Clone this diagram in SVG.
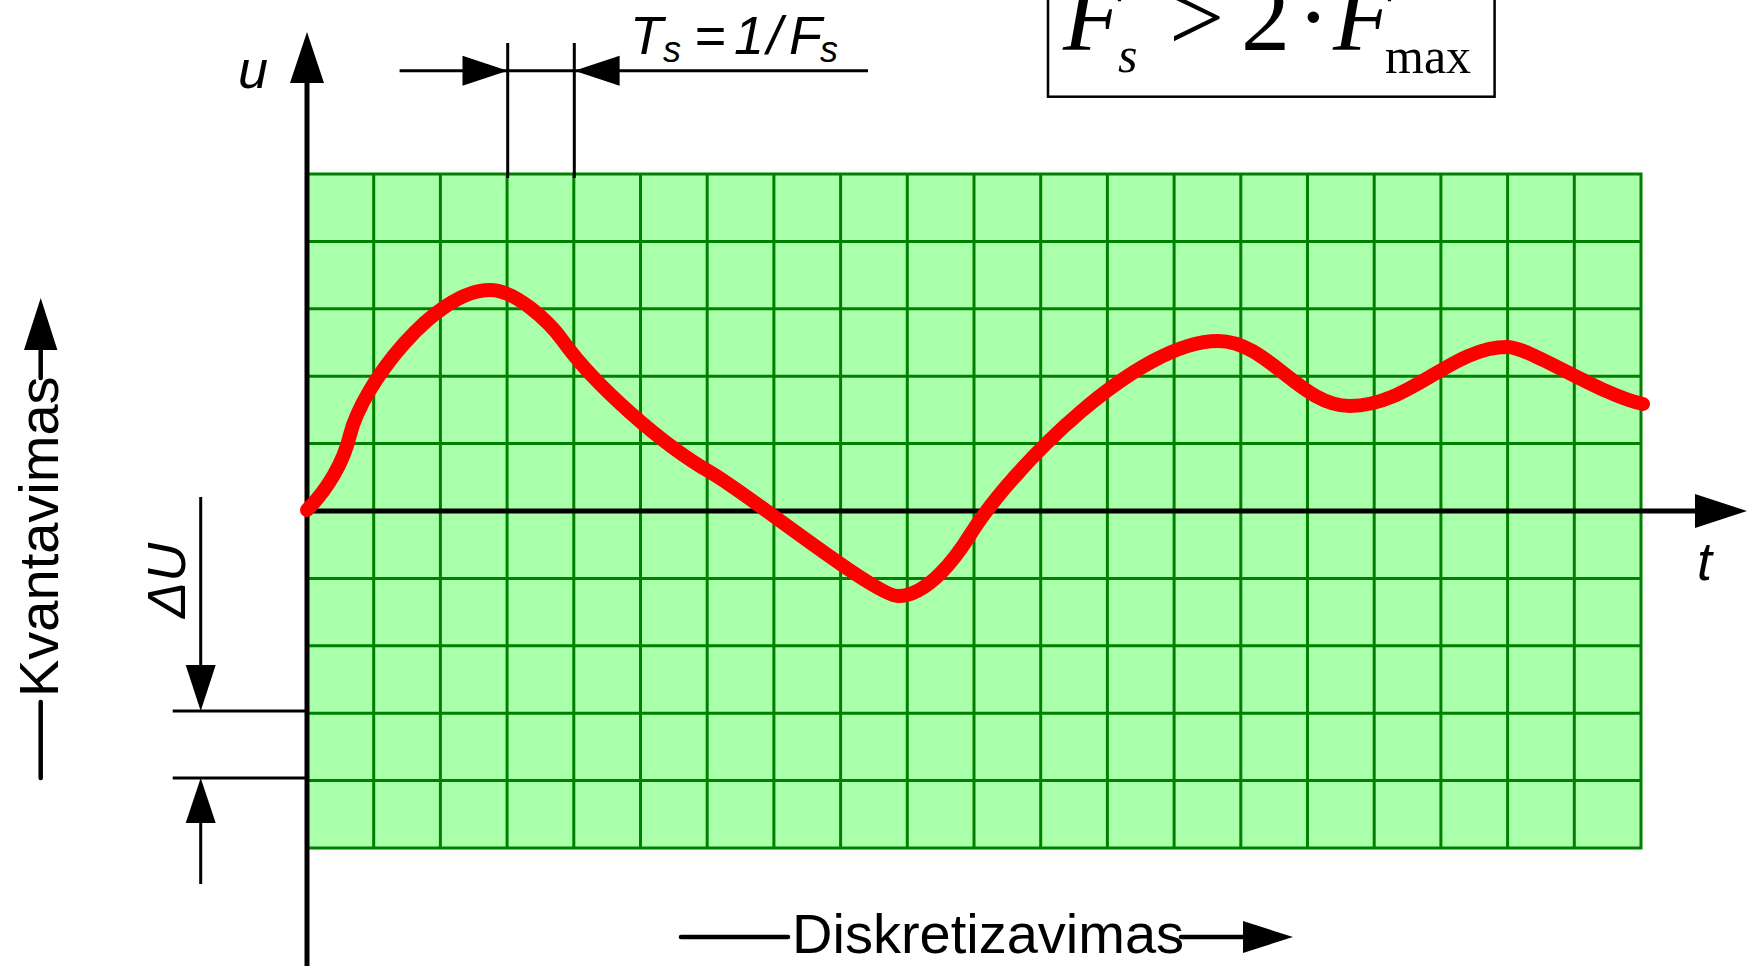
<svg xmlns="http://www.w3.org/2000/svg" width="1747" height="966" viewBox="0 0 1747 966">
<style>
.sans{font-family:"Liberation Sans",Arial,sans-serif;fill:#000}
.serif{font-family:"Liberation Serif","Times New Roman",serif;fill:#000}
.it{font-style:italic}
.grid{stroke:#008000;stroke-width:3;fill:none}
.ax{stroke:#000;stroke-width:5;fill:none}
.thin{stroke:#000;stroke-width:3;fill:none}
.lbl{stroke:#000;stroke-width:4.5;fill:none;stroke-linecap:round}
.head{fill:#000;stroke:none}
</style>
<rect width="1747" height="966" fill="#fff"/>
<g id="grid">
<rect x="307" y="174" width="1334" height="674" fill="#AAFFAA" stroke="#008000" stroke-width="3"/>
<path class="grid" d="M373.7,174V848M440.4,174V848M507.1,174V848M573.8,174V848M640.5,174V848M707.2,174V848M773.9,174V848M840.6,174V848M907.3,174V848M974,174V848M1040.7,174V848M1107.4,174V848M1174.1,174V848M1240.8,174V848M1307.5,174V848M1374.2,174V848M1440.9,174V848M1507.6,174V848M1574.3,174V848"/>
<path class="grid" d="M307,241.4H1641M307,308.8H1641M307,376.2H1641M307,443.6H1641M307,578.4H1641M307,645.8H1641M307,713.2H1641M307,780.6H1641"/>
</g>
<g id="connectors">
<path class="ax" d="M307,966V80"/>
<polygon class="head" points="307,32 290,83 324,83"/>
<path class="ax" d="M307,511H1697"/>
<polygon class="head" points="1747,511 1695,494 1695,528"/>
<path class="thin" d="M507.7,43V178M574.3,43V178M399.6,70.7H868"/>
<polygon class="head" points="507.7,70.7 462.5,55.7 462.5,85.7"/>
<polygon class="head" points="574.3,70.7 619.6,55.7 619.6,85.7"/>
<path class="thin" d="M200.7,497V666M172.7,711H307M172.7,778H307M200.7,822V884"/>
<polygon class="head" points="200.7,711 185.7,665 215.7,665"/>
<polygon class="head" points="200.7,778 185.7,823 215.7,823"/>
<path class="lbl" d="M40.7,778V702M40.7,378V345"/>
<polygon class="head" points="40.7,298 24,350 57.4,350"/>
<path class="lbl" d="M681,937H788M1181,937H1245"/>
<polygon class="head" points="1293,937 1243,921 1243,953"/>
</g>
<g id="signal">
<path d="M307,510C327,490 343.3,463 350,435C362,385 435,290 490,290C515,290 548.5,320.7 563,341C594.9,385.6 662.2,444.5 710,472C750,495 875,596 898,596C928,596 956.8,556.3 970,535C1012.4,467 1138,341 1218,341C1268,341 1300,406 1350,406C1410,406 1452,347 1507,347C1530,347 1600,395 1643,404" fill="none" stroke="#FF0000" stroke-width="14" stroke-linecap="round" stroke-linejoin="round"/>
</g>
<g id="label-u"><text class="sans it" x="238" y="88" font-size="54">u</text></g>
<g id="label-t"><text class="sans it" x="1697" y="580" font-size="54">t</text></g>
<g id="label-ts"><text class="sans it" y="54" font-size="54"><tspan x="630">T</tspan><tspan x="663" y="62" font-size="36">s</tspan><tspan x="694" y="54">=</tspan><tspan x="734">1</tspan><tspan x="767">/</tspan><tspan x="789">F</tspan><tspan x="820" y="62" font-size="36">s</tspan></text></g>
<g id="formula">
<rect x="1048" y="-10" width="446.6" height="106.7" fill="#fff" stroke="#000" stroke-width="2.5"/>
<text class="serif" font-size="98" y="50"><tspan class="it" x="1063">F</tspan><tspan x="1169">&gt;</tspan><tspan x="1241">2</tspan><tspan x="1297">·</tspan><tspan class="it" x="1333">F</tspan></text>
<text class="serif it" font-size="50" x="1118" y="71.7">s</text>
<text class="serif" font-size="50" x="1385" y="72.7">max</text>
</g>
<g id="label-kvantavimas"><text class="sans" font-size="56" transform="translate(58,697) rotate(-90)">Kvantavimas</text></g>
<g id="label-du"><text class="sans it" font-size="54" transform="translate(185,618) rotate(-90)">ΔU</text></g>
<g id="label-diskretizavimas"><text class="sans" font-size="56" x="792" y="953">Diskretizavimas</text></g>
</svg>
